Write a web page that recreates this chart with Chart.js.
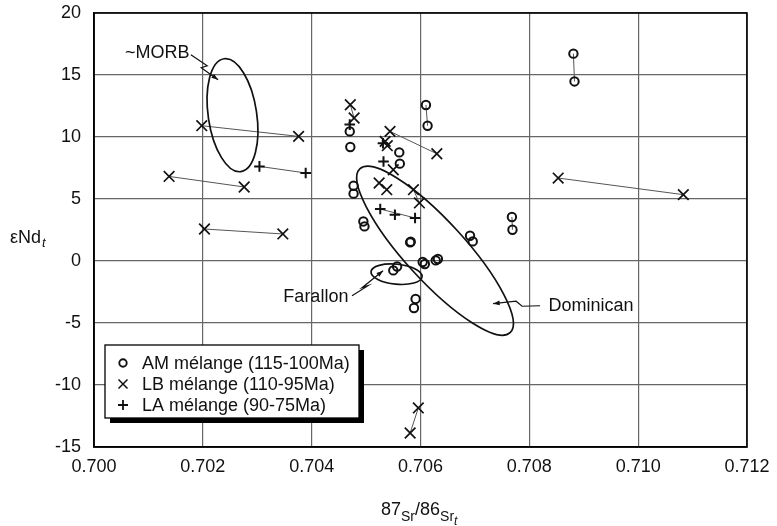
<!DOCTYPE html>
<html>
<head>
<meta charset="utf-8">
<script src="https://cdn.jsdelivr.net/npm/chart.js@4.4.0/dist/chart.umd.min.js"></script>
<style>
  html, body { margin: 0; padding: 0; background: #fff; }
  #wrap { width: 777px; height: 526px; }
</style>
</head>
<body>
<div id="wrap"><canvas id="chart" width="777" height="526"></canvas></div>
<script>
const seriesNames = ["AM mélange (115-100Ma)", "LB mélange (110-95Ma)", "LA mélange (90-75Ma)"]

// AM mélange, circles
const amSr = [0.70881, 0.70883, 0.70610, 0.70613, 0.70768, 0.70769, 0.70691, 0.70696, 0.70582, 0.70581,
  0.70604, 0.70608, 0.70628, 0.70632, 0.70550, 0.70557, 0.70591, 0.70588, 0.70561, 0.70562,
  0.70477, 0.70477, 0.70495, 0.70497, 0.70470, 0.70471]
const amNd = [16.72, 14.48, 12.58, 10.91, 3.55, 2.52, 2.04, 1.58, 1.55, 1.50,
  -0.08, -0.24, 0.05, 0.16, -0.76, -0.44, -3.06, -3.79, 8.76, 7.85,
  6.07, 5.43, 3.19, 2.79, 10.45, 9.19]
const amTies = [[0, 1], [2, 3], [4, 5]]

// LB mélange, crosses
const lbSr = [0.70198, 0.70376, 0.70138, 0.70276, 0.70203, 0.70347, 0.70544, 0.70630, 0.70853, 0.71083,
  0.70596, 0.70581, 0.70471, 0.70478, 0.70535, 0.70539, 0.70550, 0.70524, 0.70538, 0.70587, 0.70598]
const lbNd = [10.91, 10.05, 6.82, 5.97, 2.58, 2.18, 10.45, 8.65, 6.69, 5.35,
  -11.85, -13.87, 12.60, 11.53, 9.65, 9.30, 7.36, 6.29, 5.75, 5.75, 4.68]
const lbTies = [[0, 1], [2, 3], [4, 5], [6, 7], [8, 9], [10, 11], [12, 13], [17, 18], [19, 20]]

// LA mélange, plus signs
const laSr = [0.70304, 0.70389, 0.70526, 0.70553, 0.70590, 0.70532, 0.70470, 0.70531]
const laNd = [7.63, 7.10, 4.19, 3.73, 3.47, 8.03, 11.00, 9.50]
const laTies = [[0, 1], [2, 4]]

const xTicks = [0.700, 0.702, 0.704, 0.706, 0.708, 0.710, 0.712]
const yTicks = [-15, -10, -5, 0, 5, 10, 15, 20]

// field outlines: major axis ends (Sr, Nd) and minor/major ratio
const fieldNames = ["MORB", "Dominican", "Farallon"]
const fieldEnds = [[[0.70239, 16.31], [0.70270, 7.21]], [[0.704889, 7.44], [0.707646, -5.78]], [[0.705091, -0.86], [0.706029, -1.27]]]
const fieldRatio = [0.425, 0.27, 0.39]

// labels and their zigzag pointers
const labelText = ["~MORB", "Dominican", "Farallon"]
const labelAt = [[0.70057, 16.8], [0.70835, -3.66], [0.70348, -2.90]]
const pointerPath = [
  [[0.70178, 16.64], [0.70208, 15.75], [0.70197, 15.59], [0.70228, 14.62]],
  [[0.708198, -3.61], [0.707867, -3.65], [0.707757, -3.24], [0.707334, -3.44]],
  [[0.704742, -2.81], [0.705036, -1.99], [0.704926, -2.15], [0.705312, -0.78]]
]

const ink = "#111"
const font = "Liberation Sans, Arial, Helvetica, sans-serif"

function toPoints(xs, ys) {
  return xs.map((x, i) => ({ x: x, y: ys[i] }))
}

function tieSets(xs, ys, ties) {
  return ties.map(t => ({
    label: "",
    data: [{ x: xs[t[0]], y: ys[t[0]] }, { x: xs[t[1]], y: ys[t[1]] }],
    showLine: true,
    pointRadius: 0,
    borderWidth: 1,
    borderColor: "#555"
  }))
}

const datasets = [
  { label: seriesNames[0], data: toPoints(amSr, amNd), pointStyle: "circle", pointRadius: 4.2,
    pointBorderWidth: 2, pointBorderColor: ink, pointBackgroundColor: "rgba(0,0,0,0)" },
  { label: seriesNames[1], data: toPoints(lbSr, lbNd), pointStyle: "crossRot", pointRadius: 7.5,
    pointBorderWidth: 1.7, pointBorderColor: ink },
  { label: seriesNames[2], data: toPoints(laSr, laNd), pointStyle: "cross", pointRadius: 5.3,
    pointBorderWidth: 2, pointBorderColor: ink }
].concat(tieSets(amSr, amNd, amTies), tieSets(lbSr, lbNd, lbTies), tieSets(laSr, laNd, laTies))

function drawSymbol(ctx, style, x, y) {
  ctx.beginPath()
  if (style === "circle") {
    ctx.lineWidth = 1.9
    ctx.arc(x, y, 3.7, 0, Math.PI * 2)
  } else if (style === "crossRot") {
    ctx.lineWidth = 1.5
    ctx.moveTo(x - 4.5, y - 4.5); ctx.lineTo(x + 4.5, y + 4.5)
    ctx.moveTo(x + 4.5, y - 4.5); ctx.lineTo(x - 4.5, y + 4.5)
  } else {
    ctx.lineWidth = 1.8
    ctx.moveTo(x - 5, y); ctx.lineTo(x + 5, y)
    ctx.moveTo(x, y - 5); ctx.lineTo(x, y + 5)
  }
  ctx.stroke()
}

const extras = {
  id: "extras",
  afterDraw(chart) {
    const ctx = chart.ctx
    const xs = chart.scales.x
    const ys = chart.scales.y
    const area = chart.chartArea
    const px = p => [xs.getPixelForValue(p[0]), ys.getPixelForValue(p[1])]
    ctx.save()
    ctx.strokeStyle = ink
    ctx.fillStyle = ink

    // field ellipses
    ctx.lineWidth = 1.7
    fieldEnds.forEach((ends, i) => {
      const a = px(ends[0]), b = px(ends[1])
      const dx = b[0] - a[0], dy = b[1] - a[1]
      const r = Math.hypot(dx, dy) / 2
      ctx.beginPath()
      ctx.ellipse((a[0] + b[0]) / 2, (a[1] + b[1]) / 2, r, r * fieldRatio[i], Math.atan2(dy, dx), 0, Math.PI * 2)
      ctx.stroke()
    })

    // pointers with arrow heads
    ctx.lineWidth = 1.2
    pointerPath.forEach(path => {
      const pts = path.map(px)
      ctx.beginPath()
      pts.forEach((p, j) => j ? ctx.lineTo(p[0], p[1]) : ctx.moveTo(p[0], p[1]))
      ctx.stroke()
      const e = pts[pts.length - 1], s = pts[pts.length - 2]
      const ang = Math.atan2(e[1] - s[1], e[0] - s[0])
      ctx.beginPath()
      ctx.moveTo(e[0], e[1])
      ctx.lineTo(e[0] - 7 * Math.cos(ang - 0.35), e[1] - 7 * Math.sin(ang - 0.35))
      ctx.lineTo(e[0] - 7 * Math.cos(ang + 0.35), e[1] - 7 * Math.sin(ang + 0.35))
      ctx.closePath()
      ctx.fill()
    })

    // labels
    ctx.font = "18px " + font
    ctx.textBaseline = "middle"
    ctx.textAlign = "left"
    labelText.forEach((t, i) => {
      const p = px(labelAt[i])
      ctx.fillText(t, p[0], p[1])
    })

    // plot frame
    ctx.lineWidth = 1.6
    ctx.strokeStyle = "#000"
    ctx.strokeRect(area.left, area.top, area.right - area.left, area.bottom - area.top)

    // legend box with shadow
    const lx = 105, ly = 345, lw = 254, lh = 73
    ctx.fillStyle = "#000"
    ctx.fillRect(lx + 5, ly + 5, lw, lh)
    ctx.fillStyle = "#fff"
    ctx.fillRect(lx, ly, lw, lh)
    ctx.lineWidth = 1.3
    ctx.strokeRect(lx, ly, lw, lh)
    const styles = ["circle", "crossRot", "cross"]
    ctx.strokeStyle = ink
    ctx.fillStyle = ink
    seriesNames.forEach((name, i) => {
      const yy = ly + 18 + i * 21
      drawSymbol(ctx, styles[i], lx + 18, yy)
      ctx.fillText(name, lx + 37, yy + 1)
    })

    // y axis title
    ctx.textBaseline = "alphabetic"
    ctx.font = "18px " + font
    ctx.fillText("εNd", 10, 243)
    let w = ctx.measureText("εNd").width
    ctx.font = "italic 13px " + font
    ctx.fillText("t", 10 + w + 1, 247)

    // x axis title
    let x = 381
    const parts = [["87", "18px", 515], ["Sr", "14px", 521], ["/86", "18px", 515], ["Sr", "14px", 521], ["t", "italic 12px", 525]]
    parts.forEach(p => {
      ctx.font = p[1] + " " + font
      ctx.fillText(p[0], x, p[2])
      x += ctx.measureText(p[0]).width
    })
    ctx.restore()
  }
}

new Chart(document.getElementById("chart"), {
  type: "scatter",
  data: { datasets: datasets },
  options: {
    responsive: false,
    animation: false,
    layout: { padding: { left: 0, right: 30, top: 13, bottom: 0 } },
    plugins: { legend: { display: false }, tooltip: { enabled: false } },
    scales: {
      x: {
        type: "linear",
        min: 0.700,
        max: 0.712,
        afterBuildTicks: s => { s.ticks = xTicks.map(v => ({ value: v })) },
        afterFit: s => { s.height = 79; s.paddingLeft = 0; s.paddingRight = 0 },
        grid: { color: "#666", lineWidth: 1.2, drawTicks: false },
        border: { color: "#000", width: 1.6 },
        ticks: { padding: 9, color: ink, font: { family: font, size: 18 }, callback: v => v.toFixed(3) }
      },
      y: {
        type: "linear",
        min: -15,
        max: 20,
        afterBuildTicks: s => { s.ticks = yTicks.map(v => ({ value: v })) },
        afterFit: s => { s.width = 94; s.paddingTop = 0; s.paddingBottom = 0 },
        grid: { color: "#666", lineWidth: 1.2, drawTicks: false },
        border: { color: "#000", width: 1.6 },
        ticks: { padding: 13, color: ink, font: { family: font, size: 18 }, callback: v => String(v) }
      }
    }
  },
  plugins: [extras]
})
</script>
</body>
</html>
